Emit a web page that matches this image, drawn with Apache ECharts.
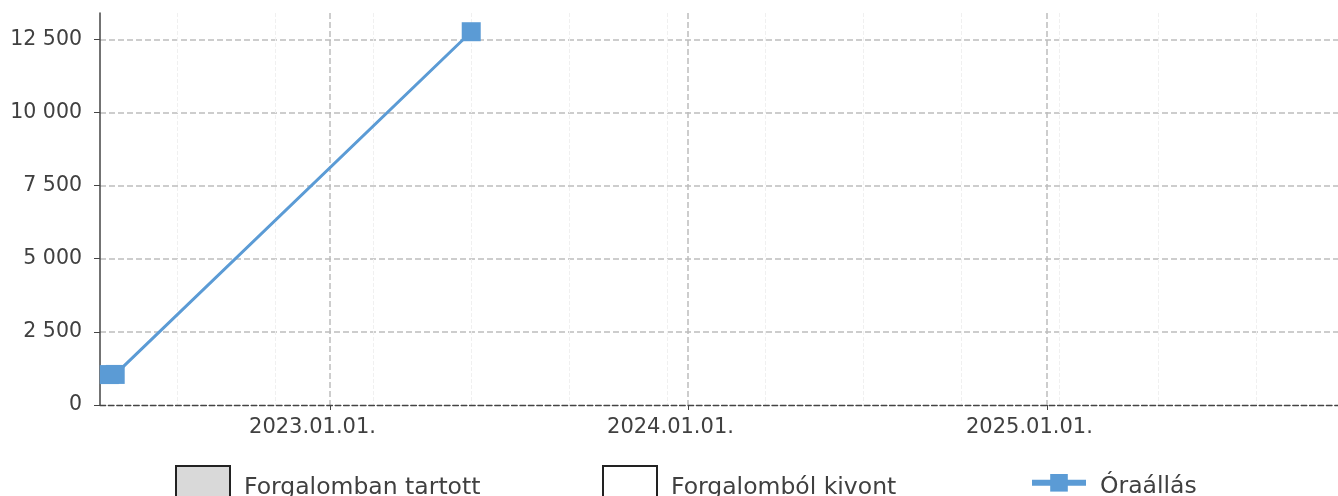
<!DOCTYPE html>
<html>
<head>
<meta charset="utf-8">
<script src="https://cdn.jsdelivr.net/npm/echarts@6/dist/echarts.min.js"></script>
<style>
html, body { margin: 0; padding: 0; background: #fff; }
#chart { width: 1338px; height: 496px; }
</style>
</head>
<body>
<div id="chart"></div>
<script>
// óraállás mérések
var meterDates = ['2022-05-21', '2022-05-27', '2023-05-25'];
var meterValues = [1040, 1045, 12760];
var axisStart = '2022-05-11 12:00';
var axisEnd = '2025-10-24 18:00';
var yMax = 13400;
var yStep = 2500;
var legendNames = ['Forgalomban tartott', 'Forgalomból kivont', 'Óraállás'];

var DAY = 24 * 3600 * 1000;

function thousands(v) {
    return String(v).replace(/\B(?=(\d{3})+(?!\d))/g, ' ');
}

var meterData = meterDates.map(function (d, i) {
    return [d, meterValues[i]];
});

var labelText = { fontFamily: 'DejaVu Sans', color: '#404040' };
// a jelmagyarázat szövege kicsit lejjebb és beljebb van
var legendText = {
    rich: {
        t: { fontFamily: 'DejaVu Sans', color: '#404040', fontSize: 23.5, padding: [9, 0, 0, 9] }
    }
};
function legendLabel(name) {
    return '{t|' + name + '}';
}

// halvány segédvonalak 100 naponként
var faintStart = new Date('2022-07-29').getTime();
var faintEnd = new Date(axisEnd).getTime();

var myChart = echarts.init(document.getElementById('chart'));
var option = {
    animation: false,
    grid: [
        { left: 100, right: 0, top: 13, bottom: 91 },
        { left: 177, right: 0, top: 13, bottom: 91 }
    ],
    legend: [
        {
            data: [legendNames[0]], left: 175, top: 465, padding: 0,
            icon: 'rect', itemWidth: 54, itemHeight: 34, selectedMode: false,
            formatter: legendLabel, textStyle: legendText
        },
        {
            data: [legendNames[1]], left: 602, top: 465, padding: 0,
            icon: 'rect', itemWidth: 54, itemHeight: 34, selectedMode: false,
            formatter: legendLabel, textStyle: legendText
        },
        {
            data: [legendNames[2]], left: 1029, top: 474, padding: 0,
            itemWidth: 54, itemHeight: 22, selectedMode: false,
            lineStyle: { width: 6 },
            formatter: legendLabel, textStyle: legendText
        }
    ],
    xAxis: [
        {
            type: 'time',
            gridIndex: 0,
            min: axisStart,
            max: axisEnd,
            minInterval: 365 * DAY,
            maxInterval: 366 * DAY,
            axisLine: { lineStyle: { color: '#444', type: 'dashed', width: 1.4 } },
            axisTick: { show: true, length: 5, lineStyle: { color: '#444' } },
            axisLabel: Object.assign({
                formatter: '{yyyy}.{MM}.{dd}.',
                fontSize: 21,
                margin: 12,
                padding: [0, 35, 0, 0],
                showMinLabel: false,
                showMaxLabel: false
            }, labelText),
            splitLine: {
                show: true, showMinLine: false, showMaxLine: false,
                lineStyle: { type: 'dashed', color: '#bdbdbd', width: 1.5 }
            }
        },
        {
            type: 'value',
            gridIndex: 1,
            min: 0,
            max: (faintEnd - faintStart) / DAY,
            interval: 100,
            axisLine: { show: false },
            axisTick: { show: false },
            axisLabel: { show: false },
            splitLine: {
                show: true, showMaxLine: false,
                lineStyle: { type: 'dashed', color: '#f0f0f0', width: 1 }
            }
        }
    ],
    yAxis: [
        {
            type: 'value',
            gridIndex: 0,
            min: 0,
            max: yMax,
            interval: yStep,
            axisLine: { show: true, lineStyle: { color: '#444', width: 1.5 } },
            axisTick: { show: true, length: 6, lineStyle: { color: '#444' } },
            axisLabel: Object.assign({
                fontSize: 20.5,
                margin: 18,
                padding: [4, 0, 0, 0],
                showMaxLabel: false,
                formatter: thousands
            }, labelText),
            splitLine: {
                show: true, showMinLine: false, showMaxLine: false,
                lineStyle: { type: 'dashed', color: '#bdbdbd', width: 1.5 }
            }
        },
        {
            type: 'value',
            gridIndex: 1,
            show: false,
            splitLine: { show: false }
        }
    ],
    series: [
        {
            name: legendNames[0],
            type: 'scatter',
            xAxisIndex: 1,
            yAxisIndex: 1,
            data: [],
            itemStyle: { color: '#d9d9d9', borderColor: '#222', borderWidth: 1.5, opacity: 1 }
        },
        {
            name: legendNames[1],
            type: 'scatter',
            xAxisIndex: 1,
            yAxisIndex: 1,
            data: [],
            itemStyle: { color: '#ffffff', borderColor: '#222', borderWidth: 1.5, opacity: 1 }
        },
        {
            name: legendNames[2],
            type: 'line',
            data: meterData,
            symbol: 'rect',
            symbolSize: 19,
            lineStyle: { color: '#5b9bd5', width: 3 },
            itemStyle: { color: '#5b9bd5' }
        }
    ]
};
myChart.setOption(option);
</script>
</body>
</html>
